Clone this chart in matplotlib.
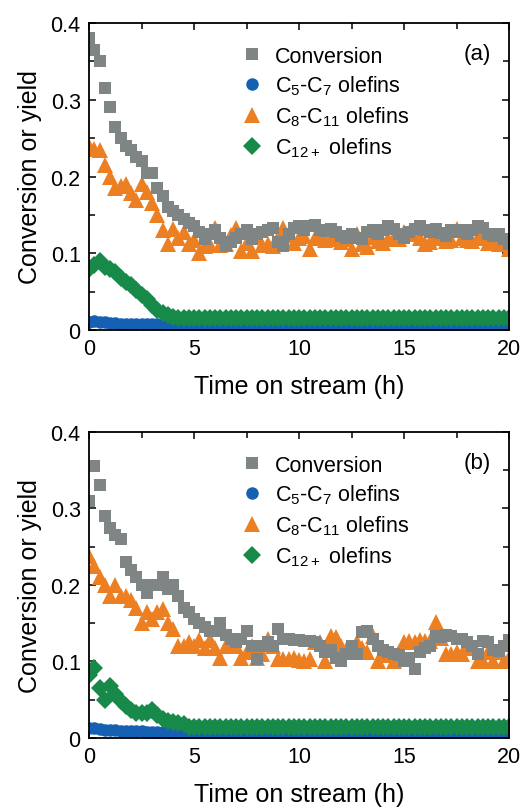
import numpy as np
import matplotlib
matplotlib.use('Agg')
import matplotlib.pyplot as plt
from matplotlib.ticker import MultipleLocator, FuncFormatter

plt.rcParams['font.family'] = ['Liberation Sans', 'DejaVu Sans']
plt.rcParams['mathtext.fontset'] = 'custom'
plt.rcParams['mathtext.rm'] = 'Liberation Sans'
plt.rcParams['mathtext.default'] = 'regular'

# sampling every 15 min over 20 h on stream
hours = np.linspace(0, 20, 81)

# panel (a)
conv_a = [0.380, 0.365, 0.350, 0.315, 0.290, 0.265, 0.250, 0.240, 0.235, 0.225,
          0.220, 0.205, 0.205, 0.185, 0.175, 0.160, 0.155, 0.150, 0.145, 0.140,
          0.135, 0.128, 0.118, 0.125, 0.130, 0.120, 0.110, 0.115, 0.120, 0.125,
          0.130, 0.118, 0.125, 0.128, 0.130, 0.133, 0.115, 0.110, 0.125, 0.133,
          0.136, 0.130, 0.136, 0.137, 0.130, 0.129, 0.132, 0.128, 0.123, 0.120,
          0.125, 0.120, 0.118, 0.128, 0.130, 0.125, 0.130, 0.136, 0.132, 0.125,
          0.120, 0.128, 0.131, 0.136, 0.130, 0.128, 0.132, 0.126, 0.122, 0.130,
          0.128, 0.130, 0.125, 0.130, 0.135, 0.133, 0.125, 0.122, 0.125, 0.118,
          0.112]
c5c7_a = [0.011, 0.012, 0.011, 0.010, 0.009, 0.009, 0.008, 0.008, 0.008, 0.008,
          0.008, 0.008, 0.008, 0.008, 0.007, 0.007, 0.006, 0.006, 0.005, 0.005,
          0.005, 0.005, 0.005, 0.005, 0.005, 0.005, 0.005, 0.005, 0.005, 0.005,
          0.005, 0.005, 0.005, 0.005, 0.005, 0.005, 0.005, 0.005, 0.005, 0.005,
          0.005, 0.005, 0.005, 0.005, 0.005, 0.005, 0.005, 0.005, 0.005, 0.005,
          0.005, 0.005, 0.005, 0.005, 0.005, 0.005, 0.005, 0.005, 0.005, 0.005,
          0.005, 0.005, 0.005, 0.005, 0.005, 0.005, 0.005, 0.005, 0.005, 0.005,
          0.005, 0.005, 0.005, 0.005, 0.005, 0.005, 0.005, 0.005, 0.005, 0.005,
          0.005]
c8c11_a = [0.240, 0.236, 0.235, 0.215, 0.200, 0.185, 0.188, 0.190, 0.178, 0.170,
           0.190, 0.180, 0.165, 0.150, 0.130, 0.112, 0.131, 0.120, 0.128, 0.112,
           0.117, 0.100, 0.110, 0.111, 0.133, 0.111, 0.112, 0.124, 0.133, 0.103,
           0.113, 0.103, 0.122, 0.111, 0.112, 0.110, 0.118, 0.133, 0.124, 0.113,
           0.120, 0.122, 0.105, 0.120, 0.125, 0.117, 0.118, 0.120, 0.115, 0.118,
           0.106, 0.125, 0.112, 0.108, 0.121, 0.116, 0.113, 0.118, 0.120, 0.118,
           0.128, 0.126, 0.125, 0.120, 0.112, 0.115, 0.122, 0.120, 0.116, 0.117,
           0.131, 0.120, 0.117, 0.116, 0.120, 0.122, 0.113, 0.114, 0.112, 0.112,
           0.106]
c12_a = [0.080, 0.085, 0.090, 0.082, 0.080, 0.075, 0.068, 0.063, 0.058, 0.052,
         0.046, 0.040, 0.033, 0.026, 0.022, 0.020, 0.017, 0.016, 0.015, 0.015,
         0.015, 0.015, 0.015, 0.015, 0.015, 0.015, 0.015, 0.015, 0.015, 0.015,
         0.015, 0.015, 0.015, 0.015, 0.015, 0.015, 0.015, 0.015, 0.015, 0.015,
         0.015, 0.015, 0.015, 0.015, 0.015, 0.015, 0.015, 0.015, 0.015, 0.015,
         0.015, 0.015, 0.015, 0.015, 0.015, 0.015, 0.015, 0.015, 0.015, 0.015,
         0.015, 0.015, 0.015, 0.015, 0.015, 0.015, 0.015, 0.015, 0.015, 0.015,
         0.015, 0.015, 0.015, 0.015, 0.015, 0.015, 0.015, 0.015, 0.015, 0.015,
         0.015]

# panel (b)
conv_b = [0.310, 0.355, 0.330, 0.290, 0.275, 0.265, 0.260, 0.230, 0.220, 0.210,
          0.200, 0.190, 0.200, 0.200, 0.210, 0.195, 0.200, 0.185, 0.170, 0.165,
          0.155, 0.150, 0.145, 0.140, 0.140, 0.150, 0.135, 0.130, 0.125, 0.130,
          0.140, 0.120, 0.103, 0.120, 0.125, 0.120, 0.143, 0.130, 0.130, 0.128,
          0.128, 0.127, 0.127, 0.125, 0.120, 0.112, 0.115, 0.105, 0.100, 0.110,
          0.120, 0.110, 0.138, 0.140, 0.130, 0.120, 0.115, 0.112, 0.110, 0.108,
          0.100, 0.105, 0.090, 0.113, 0.118, 0.120, 0.133, 0.132, 0.135, 0.133,
          0.130, 0.130, 0.126, 0.120, 0.110, 0.127, 0.125, 0.115, 0.114, 0.120,
          0.128]
c5c7_b = [0.013, 0.013, 0.012, 0.011, 0.010, 0.010, 0.009, 0.009, 0.009, 0.009,
          0.009, 0.008, 0.008, 0.008, 0.008, 0.008, 0.007, 0.007, 0.006, 0.005,
          0.003, 0.002, 0.002, 0.002, 0.002, 0.002, 0.002, 0.002, 0.002, 0.002,
          0.002, 0.002, 0.002, 0.002, 0.002, 0.002, 0.002, 0.002, 0.002, 0.002,
          0.002, 0.002, 0.002, 0.002, 0.002, 0.002, 0.002, 0.002, 0.002, 0.002,
          0.002, 0.002, 0.002, 0.002, 0.002, 0.002, 0.002, 0.002, 0.002, 0.002,
          0.002, 0.002, 0.002, 0.002, 0.002, 0.002, 0.002, 0.002, 0.002, 0.002,
          0.002, 0.002, 0.002, 0.002, 0.002, 0.002, 0.002, 0.002, 0.002, 0.002,
          0.002]
c8c11_b = [0.238, 0.225, 0.210, 0.200, 0.185, 0.200, 0.185, 0.185, 0.180, 0.170,
           0.150, 0.165, 0.155, 0.165, 0.168, 0.150, 0.142, 0.120, 0.120, 0.125,
           0.120, 0.128, 0.118, 0.128, 0.118, 0.105, 0.120, 0.122, 0.120, 0.105,
           0.112, 0.120, 0.105, 0.110, 0.130, 0.120, 0.103, 0.103, 0.103, 0.104,
           0.102, 0.100, 0.103, 0.125, 0.125, 0.100, 0.133, 0.132, 0.120, 0.115,
           0.115, 0.125, 0.118, 0.112, 0.133, 0.100, 0.113, 0.108, 0.100, 0.113,
           0.126, 0.127, 0.125, 0.128, 0.127, 0.127, 0.152, 0.131, 0.110, 0.110,
           0.112, 0.110, 0.120, 0.118, 0.100, 0.100, 0.113, 0.101, 0.112, 0.100,
           0.105]
c12_b = [0.082, 0.092, 0.065, 0.050, 0.068, 0.058, 0.048, 0.042, 0.036, 0.033,
         0.033, 0.033, 0.036, 0.030, 0.025, 0.022, 0.021, 0.020, 0.018, 0.015,
         0.015, 0.015, 0.015, 0.015, 0.015, 0.015, 0.015, 0.015, 0.015, 0.015,
         0.015, 0.015, 0.015, 0.015, 0.015, 0.015, 0.015, 0.015, 0.015, 0.015,
         0.015, 0.015, 0.015, 0.015, 0.015, 0.015, 0.015, 0.015, 0.015, 0.015,
         0.015, 0.015, 0.015, 0.015, 0.015, 0.015, 0.015, 0.015, 0.015, 0.015,
         0.015, 0.015, 0.015, 0.015, 0.015, 0.015, 0.015, 0.015, 0.015, 0.015,
         0.015, 0.015, 0.015, 0.015, 0.015, 0.015, 0.015, 0.015, 0.015, 0.015,
         0.015]

labels = ['Conversion', r'C$_5$-C$_7$ olefins', r'C$_8$-C$_{11}$ olefins',
          r'C$_{12+}$ olefins']
colors = ['#7f8485', '#1660b4', '#ec7f22', '#178a4a']
markers = ['s', 'o', '^', 'D']
msizes = [8.8, 9.0, 11.0, 8.8]

fig = plt.figure(figsize=(5.24, 8.12), dpi=100)
ax_a = fig.add_axes([0.170, 0.5924, 0.8015, 0.378])
ax_b = fig.add_axes([0.170, 0.0899, 0.8015, 0.377])

panels = [(ax_a, [conv_a, c5c7_a, c8c11_a, c12_a], '(a)'),
          (ax_b, [conv_b, c5c7_b, c8c11_b, c12_b], '(b)')]

for ax, series, tag in panels:
    # blue first so the green band sits on top of it
    order = [1, 3, 2, 0]
    handles = {}
    for k in order:
        h, = ax.plot(hours, series[k], linestyle='none', marker=markers[k],
                     ms=msizes[k], color=colors[k], mec=colors[k], mew=0,
                     label=labels[k])
        handles[k] = h
    ax.set_xlim(0, 20)
    ax.set_ylim(0, 0.4)
    ax.xaxis.set_major_locator(MultipleLocator(5))
    ax.xaxis.set_minor_locator(MultipleLocator(2.5))
    ax.yaxis.set_major_locator(MultipleLocator(0.1))
    ax.yaxis.set_minor_locator(MultipleLocator(0.05))
    ax.yaxis.set_major_formatter(FuncFormatter(lambda v, p: '0' if abs(v) < 1e-9 else '%.1f' % v))
    ax.tick_params(which='both', direction='in', top=True, right=True,
                   labelsize=15.5, pad=6, width=1.1)
    ax.tick_params(which='major', length=5)
    ax.tick_params(which='minor', length=4.5)
    for sp in ax.spines.values():
        sp.set_linewidth(1.3)
    ax.set_xlabel('Time on stream (h)', fontsize=18, labelpad=10.5)
    ax.set_ylabel('Conversion or yield', fontsize=18, labelpad=6)
    leg = ax.legend([handles[k] for k in range(4)], labels, loc='upper left',
                    bbox_to_anchor=(0.33, 0.975), frameon=False, fontsize=15.5,
                    handlelength=0.9, handletextpad=0.6, labelspacing=0.33,
                    borderpad=0.2)
    ax.text(0.925, 0.9, tag, transform=ax.transAxes, fontsize=16,
            ha='center', va='center')

fig.savefig('out.png', dpi=100)
